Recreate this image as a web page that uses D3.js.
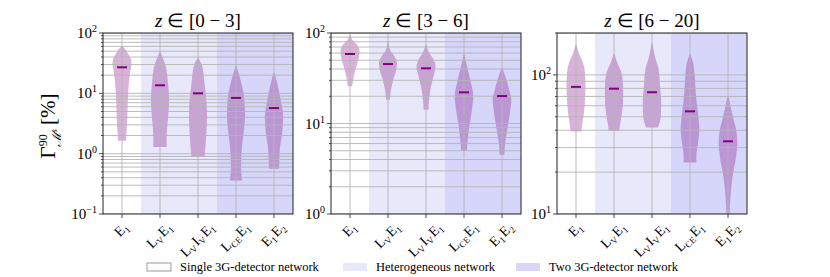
<!DOCTYPE html>
<html>
<head>
<meta charset="utf-8">
<script src="https://cdn.jsdelivr.net/npm/d3@7"></script>
<style>
  body { margin: 0; background: #fff; }
  svg text { font-family: "Liberation Serif", serif; fill: #000; }
</style>
</head>
<body>
<svg id="chart" width="830" height="277" font-family="Liberation Serif"></svg>
<script>
// detector networks on the x axis, label parts are [main, subscript]
const networks = [
  [["E", "1"]],
  [["L", "V"], ["E", "1"]],
  [["L", "V"], ["I", "V"], ["E", "1"]],
  [["L", "CE"], ["E", "1"]],
  [["E", "1"], ["E", "2"]]
];
const networkType = ["single", "hetero", "hetero", "two", "two"];
const zBins = ["0 − 3", "3 − 6", "6 − 20"];
const yDomains = [[0.1, 100], [1, 100], [10, 200]];

// medians of Gamma^90 [%]
const median_z0 = [27, 13.6, 10, 8.4, 5.7];
const median_z1 = [58.6, 45.4, 40.7, 22.1, 20.1];
const median_z2 = [82, 79.6, 75, 54.7, 33.3];

// violin profiles: [value %, relative density], from max to min
const violin_z0 = [
  [[60.1, .08], [46.7, .6], [36.1, .95], [29.9, 1], [24.7, .9], [14.8, .72], [7.85, .62], [4.16, .56], [1.64, .42]],
  [[47.9, .05], [28.1, .6], [14.8, .84], [7.85, .96], [4.16, .86], [2.2, .72], [1.29, .7]],
  [[38.5, .05], [28.1, .45], [14.8, .68], [7.85, .88], [4.16, .95], [2.2, .88], [0.9, .7]],
  [[28.1, .05], [14.8, .56], [7.85, .88], [4.16, .95], [2.2, .8], [1.17, .6], [0.61, .53], [0.36, .63]],
  [[21.7, .08], [14.8, .32], [7.85, .7], [4.16, .96], [2.2, .86], [1.17, .61], [0.56, .54]]
];
const violin_z1 = [
  [[95.9, .08], [84.4, .25], [74.3, .75], [62.7, 1], [50.7, .88], [42.8, .67], [33.2, .4], [25.8, .23]],
  [[80.9, .05], [65.5, .21], [55.3, .67], [46.7, .95], [39.4, .88], [30.5, .56], [23.7, .32], [18.3, .19]],
  [[74.3, .05], [60.1, .35], [50.7, .8], [42.8, 1], [33.2, .8], [25.8, .53], [18.3, .32], [14.2, .25]],
  [[57.7, .05], [42.8, .3], [28.1, .74], [20, .98], [14.2, .84], [10.1, .61], [7.2, .42], [5, .3]],
  [[41, .05], [33.2, .35], [23.7, .75], [18.3, .98], [13.1, .84], [8.6, .56], [6.1, .33], [4.5, .25]]
];
const violin_z2 = [
  [[165, .05], [144, .28], [122, .74], [103, .95], [82.8, 1], [66.4, .95], [53.2, .84], [45.1, .67], [39.1, .56]],
  [[142, .05], [122, .35], [103, .79], [82.8, .96], [66.4, .96], [50.4, .79], [42.8, .61], [39.5, .54]],
  [[169, .05], [136, .3], [109, .7], [82.8, .85], [62.8, .97], [50.4, .93], [41.8, .62]],
  [[140, .05], [122, .32], [97.7, .49], [82.8, .56], [66.4, .67], [53.2, .84], [40.5, .98], [32.4, .84], [26, .67], [23.5, .67]],
  [[70.1, .05], [59.4, .26], [47.6, .61], [38.3, .91], [32.4, .98], [26, .86], [19.7, .54], [15, .32], [11.4, .2], [9.9, .15]]
];
const medians = [median_z0, median_z1, median_z2];
const violins = [violin_z0, violin_z1, violin_z2];

const legendItems = [
  { type: "single", label: "Single 3G-detector network" },
  { type: "hetero", label: "Heterogeneous network" },
  { type: "two", label: "Two 3G-detector network" }
];

const bgColor = { single: "#ffffff", hetero: "#e8e8fb", two: "#d6d6fa" };
const gridColor = "#b4b4b4";

const svg = d3.select("#chart");
const panelLeft = [103, 331, 557];
const plotTop = 33, pw = 190, ph = 181;

panelLeft.forEach((left, p) => {
  const g = svg.append("g").attr("transform", `translate(${left},${plotTop})`);
  const x = d3.scaleBand().domain(d3.range(networks.length)).range([0, pw]).padding(0);
  const y = d3.scaleLog().domain(yDomains[p]).range([ph, 0]);
  const w = d3.scaleLinear().domain([0, 1]).range([0, x.bandwidth() * 0.25]);
  const cx = i => x(i) + x.bandwidth() / 2;

  g.append("clipPath").attr("id", "clip" + p)
    .append("rect").attr("width", pw).attr("height", ph);
  const plot = g.append("g").attr("clip-path", `url(#clip${p})`);

  // network type shading
  plot.selectAll("rect.bg").data(networkType).enter().append("rect")
    .attr("x", (d, i) => x(i)).attr("y", 0)
    .attr("width", x.bandwidth()).attr("height", ph)
    .attr("fill", d => bgColor[d]);

  // violins
  violins[p].forEach((prof, i) => {
    const area = d3.area()
      .y(d => y(d[0]))
      .x0(d => cx(i) - w(d[1]))
      .x1(d => cx(i) + w(d[1]))
      .curve(d3.curveMonotoneY);
    plot.append("path")
      .attr("d", area(prof))
      .attr("fill", "#800080").attr("fill-opacity", 0.3);
  });

  // grid: y major + minor, x at networks
  const [lo, hi] = yDomains[p];
  const ticks = [];
  for (let k = Math.floor(Math.log10(lo)); k <= Math.ceil(Math.log10(hi)); k++) {
    for (let m = 1; m <= 9; m++) {
      const v = m * Math.pow(10, k);
      if (v >= lo * 0.999 && v <= hi * 1.001) ticks.push({ v, major: m === 1, k });
    }
  }
  plot.selectAll("line.hg").data(ticks).enter().append("line")
    .attr("x1", 0).attr("x2", pw)
    .attr("y1", d => y(d.v)).attr("y2", d => y(d.v))
    .attr("stroke", gridColor).attr("stroke-width", 0.9);
  plot.selectAll("line.vg").data(networks).enter().append("line")
    .attr("x1", (d, i) => cx(i)).attr("x2", (d, i) => cx(i))
    .attr("y1", 0).attr("y2", ph)
    .attr("stroke", gridColor).attr("stroke-width", 0.9);

  // medians
  plot.selectAll("line.med").data(medians[p]).enter().append("line")
    .attr("x1", (d, i) => cx(i) - 5)
    .attr("x2", (d, i) => cx(i) + 5)
    .attr("y1", d => y(d)).attr("y2", d => y(d))
    .attr("stroke", "#800080").attr("stroke-width", 2);

  // frame
  g.append("rect").attr("width", pw).attr("height", ph)
    .attr("fill", "none").attr("stroke", "#222").attr("stroke-width", 1);

  // y ticks
  g.selectAll("line.yt").data(ticks).enter().append("line")
    .attr("x1", d => d.major ? -4 : -2).attr("x2", 0)
    .attr("y1", d => y(d.v)).attr("y2", d => y(d.v))
    .attr("stroke", "#222").attr("stroke-width", 0.8);
  const lab = g.selectAll("text.yl").data(ticks.filter(d => d.major)).enter().append("text")
    .attr("x", -6).attr("y", d => y(d.v) + 5)
    .attr("text-anchor", "end").style("font-size", "15px");
  lab.append("tspan").text("10");
  lab.append("tspan").attr("dy", -6).style("font-size", "10px")
    .text(d => d.k < 0 ? "−" + (-d.k) : d.k);

  // x ticks and rotated labels
  g.selectAll("line.xt").data(networks).enter().append("line")
    .attr("x1", (d, i) => cx(i)).attr("x2", (d, i) => cx(i))
    .attr("y1", ph).attr("y2", ph + 4)
    .attr("stroke", "#222").attr("stroke-width", 0.8);
  networks.forEach((parts, i) => {
    const lg = g.append("g");
    const t = lg.append("text").attr("text-anchor", "middle")
      .attr("y", 4)
      .style("font-size", "14px");
    parts.forEach(([m, s]) => {
      t.append("tspan").text(m);
      t.append("tspan").attr("dy", 3).style("font-size", "9px").text(s);
      t.append("tspan").attr("dy", -3).text("\u200a");
    });
    const L = t.node().getComputedTextLength() || 30;
    const H = 13;
    const cy = ph + 6 + (L + H) / (2 * Math.SQRT2);
    lg.attr("transform", "translate(" + cx(i) + "," + cy + ") rotate(-45)");
  });

  // title
  const title = svg.append("text").attr("x", left + pw / 2).attr("y", 27)
    .attr("text-anchor", "middle").style("font-size", "19px");
  title.append("tspan").style("font-style", "italic").text("z");
  title.append("tspan").text(" ∈ [" + zBins[p] + "]");
});

// y label
const yl = svg.append("text").attr("transform", "translate(55,126) rotate(-90)")
  .attr("text-anchor", "middle").style("font-size", "21px");
yl.append("tspan").text("Γ");
yl.append("tspan").attr("dy", -8).style("font-size", "12px").text("90");
yl.append("tspan").attr("dx", -13).attr("dy", 14).style("font-size", "13px").style("font-style", "italic").text("ℳ");
yl.append("tspan").attr("dy", -4).style("font-size", "8px").style("font-style", "italic").text("s");
yl.append("tspan").attr("dy", -2).attr("dx", 4).text("[%]");

// legend
const legendX = [147, 343, 516];
legendItems.forEach((d, i) => {
  svg.append("rect").attr("x", legendX[i]).attr("y", 263).attr("width", 24).attr("height", 8)
    .attr("fill", bgColor[d.type])
    .attr("stroke", d.type === "single" ? "#999" : "none").attr("stroke-width", 1);
  svg.append("text").attr("x", legendX[i] + 33).attr("y", 271)
    .style("font-size", "12.5px").text(d.label);
});
</script>
</body>
</html>
